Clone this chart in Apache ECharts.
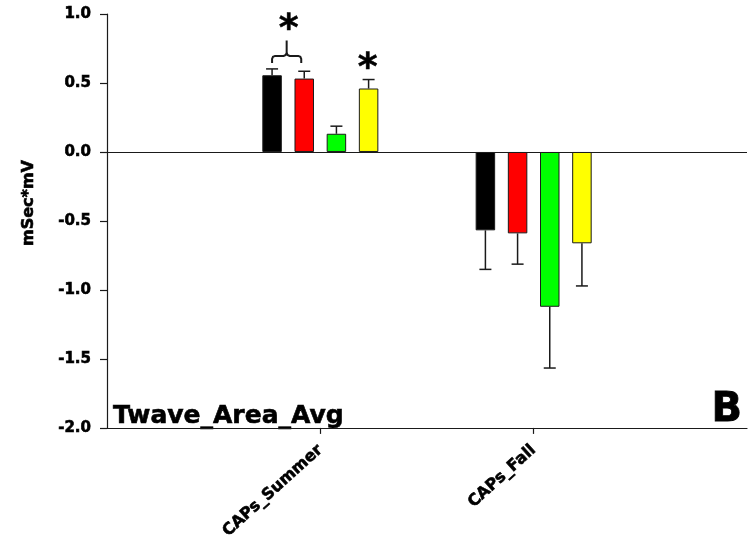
<!DOCTYPE html>
<html>
<head>
<meta charset="utf-8">
<script src="https://cdn.jsdelivr.net/npm/echarts@6/dist/echarts.min.js"></script>
<style>
  html, body { margin: 0; padding: 0; background: #fff; }
  #chart { width: 748px; height: 542px; }
</style>
</head>
<body>
<div id="chart"></div>
<script>
// Category slots: blank ends keep the two groups at 1/3 and 2/3 of the axis
const categories = ['', 'CAPs_Summer', 'CAPs_Fall', ' '];

// Group means (mSec*mV) per exposure group, in category order
const blackMeans  = ['-', 0.556, -0.568, '-'];
const redMeans    = ['-', 0.532, -0.590, '-'];
const greenMeans  = ['-', 0.132, -1.122, '-'];
const yellowMeans = ['-', 0.460, -0.662, '-'];

// Standard errors (one-sided, drawn away from zero)
const blackErr  = ['-', 0.046, 0.283, '-'];
const redErr    = ['-', 0.053, 0.223, '-'];
const greenErr  = ['-', 0.055, 0.444, '-'];
const yellowErr = ['-', 0.065, 0.309, '-'];

const yTickValues = [-2.0, -1.5, -1.0, -0.5, 0.0, 0.5, 1.0];

const barColors = ['#000000', '#ff0000', '#00ff00', '#ffff00'];
const meanSets = [blackMeans, redMeans, greenMeans, yellowMeans];
const errSets = [blackErr, redErr, greenErr, yellowErr];

const FONT = 'DejaVu Sans';
const BAR_W = 19.5;
const GAP_RATIO = 0.65;
const INK = '#1a1a1a';

// heavier lettering: bold face plus a thin outline in the same colour
const heavyLabel = (w) => ({ textBorderColor: '#000', textBorderWidth: w });
const heavyText = (w) => ({ stroke: '#000', lineWidth: w });

// Centre offsets of each bar within a category group
const pitch = BAR_W * (1 + GAP_RATIO);
const groupW = meanSets.length * BAR_W + (meanSets.length - 1) * BAR_W * GAP_RATIO;
const barOffsets = meanSets.map((_, i) => -groupW / 2 + BAR_W / 2 + i * pitch);

const chart = echarts.init(document.getElementById('chart'), null, { renderer: 'canvas' });

const barSeries = meanSets.map((means, i) => {
  const s = {
    type: 'bar',
    data: means,
    barWidth: BAR_W,
    barGap: (GAP_RATIO * 100) + '%',
    itemStyle: { color: barColors[i], borderColor: INK, borderWidth: 1 },
    silent: true,
    z: 2
  };
  if (i === 0) {
    // zero reference line across the plot
    s.markLine = {
      silent: true,
      symbol: 'none',
      label: { show: false },
      lineStyle: { color: INK, width: 1.2, type: 'solid' },
      data: [{ yAxis: 0 }],
      animation: false
    };
  }
  return s;
});

const errorSeries = meanSets.map((means, i) => ({
  type: 'custom',
  silent: true,
  z: 3,
  data: means.map((m, k) => (m === '-' ? null : [k, m, errSets[i][k]])).filter(d => d),
  encode: { x: 0, y: 1 },
  renderItem(params, api) {
    const c = api.value(0), m = api.value(1), e = api.value(2);
    const end = m >= 0 ? m + e : m - e;
    const p0 = api.coord([c, m]);
    const p1 = api.coord([c, end]);
    const x = p0[0] + barOffsets[i];
    const st = { stroke: INK, lineWidth: 1.5 };
    return {
      type: 'group',
      children: [
        { type: 'line', shape: { x1: x, y1: p0[1], x2: x, y2: p1[1] }, style: st },
        { type: 'line', shape: { x1: x - 6, y1: p1[1], x2: x + 6, y2: p1[1] }, style: st }
      ]
    };
  }
}));

chart.setOption({
  animation: false,
  backgroundColor: '#ffffff',
  grid: { left: 107, right: 1, top: 14, bottom: 112, containLabel: false },
  xAxis: {
    type: 'category',
    data: categories,
    boundaryGap: false,
    axisLine: { onZero: false, lineStyle: { color: INK, width: 1.2 } },
    axisTick: {
      show: true, length: 6, inside: false,
      interval: (idx) => idx === 1 || idx === 2,
      lineStyle: { color: INK, width: 1.2 }
    },
    axisLabel: Object.assign({
      interval: (idx) => idx === 1 || idx === 2,
      rotate: 42,
      margin: 20,
      color: '#000',
      fontFamily: FONT,
      fontWeight: 'bold',
      fontSize: 16
    }, heavyLabel(0.6)),
    splitLine: { show: false }
  },
  yAxis: {
    type: 'value',
    min: yTickValues[0],
    max: yTickValues[yTickValues.length - 1],
    interval: 0.5,
    axisLine: { show: true, lineStyle: { color: INK, width: 1.2 } },
    axisTick: { show: true, length: 7, inside: false, lineStyle: { color: INK, width: 1.2 } },
    axisLabel: Object.assign({
      color: '#000',
      fontFamily: FONT,
      fontWeight: 'bold',
      fontSize: 15,
      margin: 16,
      formatter: (v) => v.toFixed(1)
    }, heavyLabel(0.6)),
    splitLine: { show: false }
  },
  series: barSeries.concat(errorSeries)
});

// Annotations positioned from the data through the grid's own scales
function px(cat, v) {
  return chart.convertToPixel({ gridIndex: 0 }, [cat, v]);
}
const summer = 1;
const blackTop = px(summer, blackMeans[summer] + blackErr[summer]);
const redTop = px(summer, redMeans[summer] + redErr[summer]);
const yellowTop = px(summer, yellowMeans[summer] + yellowErr[summer]);

const xL = blackTop[0] + barOffsets[0];
const xR = redTop[0] + barOffsets[1] - 3;
const xM = (xL + xR) / 2;
const yBot = blackTop[1] - 6;
const yH = yBot - 7;
const yStem = yH - 15.5;
const r = 3;
const k = r * 0.3;

// significance bracket: rounded corners approximated with short chords
const bracketPts = [
  [xL, yBot], [xL, yH + r], [xL + k, yH + k], [xL + r, yH],
  [xM - r, yH], [xM - k, yH - k], [xM, yH - r], [xM, yStem]
];
const bracketPtsR = [
  [xR, yBot], [xR, yH + r], [xR - k, yH + k], [xR - r, yH],
  [xM + r, yH], [xM + k, yH - k], [xM, yH - r]
];

const xYellow = yellowTop[0] + barOffsets[3];
const starStyle = Object.assign({
  text: '*', fontFamily: FONT, fontWeight: 'bold', fontSize: 38, fill: '#000',
  align: 'center', verticalAlign: 'middle'
}, heavyText(0.5));

chart.setOption({
  graphic: [
    {
      type: 'polyline',
      shape: { points: bracketPts },
      style: { fill: null, stroke: INK, lineWidth: 2 },
      silent: true
    },
    {
      type: 'polyline',
      shape: { points: bracketPtsR },
      style: { fill: null, stroke: INK, lineWidth: 2 },
      silent: true
    },
    { type: 'text', x: xM + 2, y: yStem - 10, style: starStyle, silent: true },
    { type: 'text', x: xYellow - 1, y: yellowTop[1] - 10, style: starStyle, silent: true },
    {
      type: 'text',
      x: 113, y: 416,
      style: Object.assign({ text: 'Twave_Area_Avg', fontFamily: FONT, fontWeight: 'bold', fontSize: 25, fill: '#000', align: 'left', verticalAlign: 'middle' }, heavyText(0.6)),
      silent: true
    },
    {
      type: 'text',
      x: 742, y: 411,
      style: Object.assign({ text: 'B', fontFamily: FONT, fontWeight: 'bold', fontSize: 40, fill: '#000', align: 'right', verticalAlign: 'middle' }, heavyText(0.8)),
      silent: true
    },
    {
      type: 'text',
      x: 29, y: 203,
      rotation: Math.PI / 2,
      style: Object.assign({ text: 'mSec*mV', fontFamily: FONT, fontWeight: 'bold', fontSize: 16, fill: '#000', align: 'center', verticalAlign: 'middle' }, heavyText(0.6)),
      silent: true
    }
  ]
});
</script>
</body>
</html>
